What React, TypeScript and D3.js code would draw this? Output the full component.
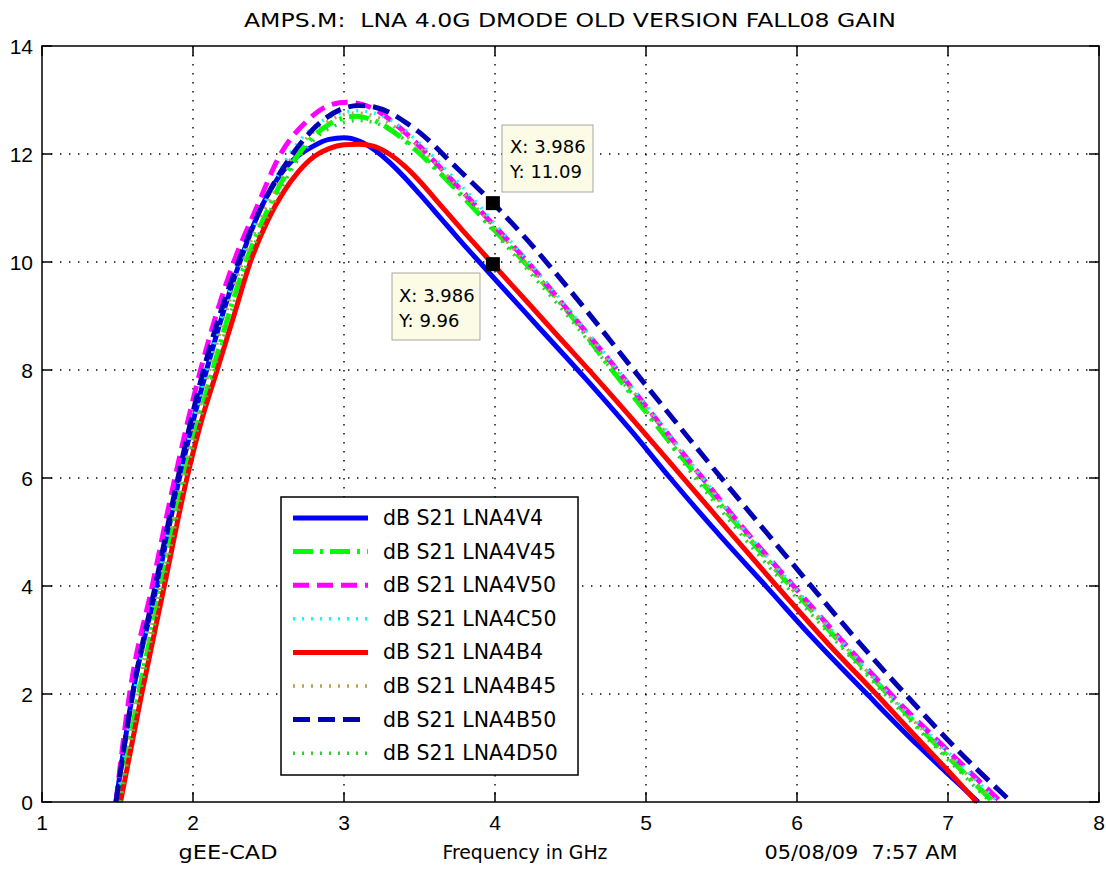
import React from 'react';
import * as d3 from 'd3';

// ---------- data ----------
const freqTicks = [1, 2, 3, 4, 5, 6, 7, 8];
const gainTicks = [0, 2, 4, 6, 8, 10, 12, 14];
const gridFreq = [2, 3, 4, 5, 6, 7];
const gridGain = [2, 4, 6, 8, 10, 12];

const titleText = 'AMPS.M:  LNA 4.0G DMODE OLD VERSION FALL08 GAIN';
const xLabelLeft = 'gEE-CAD';
const xLabelMid = 'Frequency in GHz';
const xLabelRight = '05/08/09  7:57 AM';

// LNA4V4 (blue solid)
const v4Freq = [1.49, 1.60, 1.76, 1.91, 2.09, 2.31, 2.45, 2.60, 2.80, 2.90, 3.00, 3.10, 3.20, 3.30, 3.40, 3.50, 3.60, 3.70, 3.80, 3.90, 4.00, 4.30, 4.60, 4.90, 5.16, 5.50, 5.80, 6.10, 6.47, 6.80, 7.00, 7.20];
const v4Gain = [0, 2.0, 4.0, 6.0, 8.0, 10.0, 11.0, 11.7, 12.15, 12.27, 12.3, 12.24, 12.08, 11.85, 11.57, 11.26, 10.94, 10.62, 10.3, 9.99, 9.68, 8.76, 7.84, 6.88, 6.0, 4.9, 3.98, 3.05, 1.98, 1.05, 0.52, 0];
// LNA4V45 (green dash-dot)
const v45Freq = [1.51, 1.64, 1.79, 1.94, 2.13, 2.35, 2.50, 2.70, 2.90, 3.08, 3.18, 3.28, 3.38, 3.48, 3.58, 3.68, 3.78, 3.88, 3.986, 4.20, 4.50, 4.78, 5.00, 5.29, 5.60, 5.94, 6.27, 6.60, 6.95, 7.30];
const v45Gain = [0, 2.0, 4.0, 6.0, 8.0, 10.0, 11.0, 12.0, 12.55, 12.7, 12.64, 12.5, 12.3, 12.06, 11.8, 11.52, 11.23, 10.93, 10.62, 9.98, 9.02, 7.98, 7.22, 6.2, 5.15, 4.05, 3.0, 2.0, 0.98, 0];
// LNA4V50 (magenta dashed)
const v50Freq = [1.49, 1.58, 1.73, 1.88, 2.05, 2.27, 2.42, 2.58, 2.75, 2.90, 3.02, 3.12, 3.22, 3.32, 3.42, 3.52, 3.62, 3.72, 3.82, 3.986, 4.20, 4.50, 4.81, 5.05, 5.34, 5.65, 5.97, 6.30, 6.62, 7.00, 7.35];
const v50Gain = [0, 2.0, 4.0, 6.0, 8.0, 10.0, 11.0, 12.0, 12.6, 12.9, 12.96, 12.92, 12.8, 12.6, 12.36, 12.09, 11.8, 11.5, 11.2, 10.7, 10.05, 9.05, 8.0, 7.15, 6.12, 5.05, 4.02, 2.98, 2.0, 0.95, 0];
// LNA4C50 (cyan dotted)
const c50Freq = [1.50, 1.61, 1.76, 1.91, 2.09, 2.31, 2.46, 2.64, 2.85, 3.00, 3.10, 3.20, 3.30, 3.40, 3.50, 3.60, 3.70, 3.80, 3.90, 3.986, 4.20, 4.50, 4.80, 5.05, 5.32, 5.62, 5.96, 6.29, 6.61, 6.98, 7.33];
const c50Gain = [0, 2.0, 4.0, 6.0, 8.0, 10.0, 11.0, 12.0, 12.6, 12.77, 12.8, 12.76, 12.64, 12.45, 12.2, 11.93, 11.64, 11.34, 11.03, 10.75, 10.08, 9.08, 8.05, 7.18, 6.2, 5.14, 4.05, 3.0, 2.0, 0.98, 0];
// LNA4B4 (red solid)
const b4Freq = [1.52, 1.66, 1.81, 1.96, 2.05, 2.16, 2.27, 2.38, 2.50, 2.60, 2.70, 2.80, 2.90, 3.00, 3.10, 3.20, 3.30, 3.40, 3.50, 3.60, 3.70, 3.80, 3.90, 3.986, 4.20, 4.40, 4.67, 5.00, 5.24, 5.50, 5.85, 6.20, 6.53, 6.80, 7.00, 7.19];
const b4Gain = [0, 2.0, 4.0, 6.0, 7.0, 8.0, 9.0, 10.0, 10.8, 11.3, 11.68, 11.95, 12.1, 12.17, 12.18, 12.14, 12.0, 11.78, 11.5, 11.18, 10.86, 10.54, 10.23, 9.96, 9.3, 8.68, 7.85, 6.8, 6.02, 5.18, 4.05, 2.95, 1.98, 1.17, 0.58, 0];
// LNA4B45 (tan dotted)
const b45Freq = [1.51, 1.63, 1.78, 1.93, 2.11, 2.33, 2.48, 2.67, 2.88, 3.08, 3.18, 3.28, 3.38, 3.48, 3.58, 3.68, 3.78, 3.88, 3.986, 4.20, 4.50, 4.79, 5.03, 5.31, 5.61, 5.95, 6.28, 6.60, 6.96, 7.31];
const b45Gain = [0, 2.0, 4.0, 6.0, 8.0, 10.0, 11.0, 12.0, 12.58, 12.76, 12.72, 12.6, 12.41, 12.17, 11.9, 11.61, 11.31, 11.0, 10.67, 10.0, 9.02, 8.03, 7.2, 6.2, 5.14, 4.03, 3.0, 2.0, 0.98, 0];
// LNA4B50 (dark blue dashed)
const b50Freq = [1.49, 1.60, 1.75, 1.90, 2.07, 2.30, 2.45, 2.66, 2.85, 3.00, 3.10, 3.20, 3.30, 3.40, 3.50, 3.60, 3.70, 3.80, 3.90, 3.986, 4.20, 4.40, 4.60, 4.87, 5.10, 5.44, 5.75, 6.04, 6.35, 6.70, 7.05, 7.42];
const b50Gain = [0, 2.0, 4.0, 6.0, 8.0, 10.0, 11.0, 12.0, 12.6, 12.85, 12.9, 12.87, 12.77, 12.6, 12.4, 12.15, 11.87, 11.6, 11.33, 11.09, 10.45, 9.8, 9.12, 8.17, 7.37, 6.2, 5.15, 4.18, 3.15, 2.05, 1.0, 0];
// LNA4D50 (green dotted)
const d50Freq = [1.52, 1.65, 1.80, 1.95, 2.14, 2.36, 2.52, 2.72, 2.92, 3.10, 3.20, 3.30, 3.40, 3.50, 3.60, 3.70, 3.80, 3.90, 3.986, 4.20, 4.50, 4.76, 5.00, 5.27, 5.58, 5.92, 6.25, 6.58, 6.93, 7.28];
const d50Gain = [0, 2.0, 4.0, 6.0, 8.0, 10.0, 11.0, 12.0, 12.5, 12.62, 12.58, 12.46, 12.27, 12.03, 11.76, 11.47, 11.17, 10.86, 10.58, 9.9, 8.94, 8.05, 7.25, 6.2, 5.12, 4.02, 3.0, 2.0, 0.98, 0];

const seriesLabels = ['dB S21 LNA4V4', 'dB S21 LNA4V45', 'dB S21 LNA4V50', 'dB S21 LNA4C50', 'dB S21 LNA4B4', 'dB S21 LNA4B45', 'dB S21 LNA4B50', 'dB S21 LNA4D50'];
const seriesFreqs = [v4Freq, v45Freq, v50Freq, c50Freq, b4Freq, b45Freq, b50Freq, d50Freq];
const seriesGains = [v4Gain, v45Gain, v50Gain, c50Gain, b4Gain, b45Gain, b50Gain, d50Gain];

const tipFreq = [3.986, 3.986];
const tipGain = [11.09, 9.96];

// ---------- styles ----------
const seriesStyles = [
  { color: '#0000ff', width: 5, dash: '' },
  { color: '#00ff00', width: 5, dash: '20,7,3,7' },
  { color: '#ff00ff', width: 5, dash: '16,8' },
  { color: '#00ffff', width: 3.5, dash: '2,7' },
  { color: '#ff0000', width: 5, dash: '' },
  { color: '#c0a050', width: 3.5, dash: '2,7' },
  { color: '#0000b4', width: 5, dash: '17,8' },
  { color: '#33cc33', width: 3.5, dash: '2,7' },
];

const W = 1106;
const H = 869;
const left = 42, right = 1099, top = 46, bottom = 802;
const FONT = "'DejaVu Sans', Arial, sans-serif";
const LABEL_FONT = "'Liberation Sans', Arial, sans-serif";

export default function App() {
  const x = d3.scaleLinear().domain([1, 8]).range([left, right]);
  const y = d3.scaleLinear().domain([0, 14]).range([bottom, top]);
  const line = d3.line<[number, number]>()
    .x(d => x(d[0]))
    .y(d => y(d[1]))
    .curve(d3.curveMonotoneX);

  const legX = 281, legY = 497, legW = 297, legH = 278;
  const legRow0 = 518, legStep = 33.6;
  const pre = { whiteSpace: 'pre' as const };

  return (
    <svg width={W} height={H} style={{ position: 'absolute', left: 0, top: 0, background: '#fff' }}
      fontFamily={FONT}>
      <rect x={0} y={0} width={W} height={H} fill="#fff" />
      <text x={570} y={27} fontSize={20} textAnchor="middle" textLength={652}
        lengthAdjust="spacingAndGlyphs" fill="#000" style={pre}>{titleText}</text>
      {/* grid */}
      {gridFreq.map(f => (
        <line key={'gx' + f} x1={x(f)} x2={x(f)} y1={top} y2={bottom} stroke="#000" strokeWidth={1.4} strokeDasharray="1.4,7.6" />
      ))}
      {gridGain.map(g => (
        <line key={'gy' + g} x1={left} x2={right} y1={y(g)} y2={y(g)} stroke="#000" strokeWidth={1.4} strokeDasharray="1.4,7.6" />
      ))}
      {/* ticks */}
      {freqTicks.map(f => (
        <g key={'tx' + f}>
          <line x1={x(f)} x2={x(f)} y1={bottom} y2={bottom - 10} stroke="#000" strokeWidth={1.5} />
          <line x1={x(f)} x2={x(f)} y1={top} y2={top + 10} stroke="#000" strokeWidth={1.5} />
          <text x={x(f)} y={830} fontSize={21} fontFamily={LABEL_FONT} textAnchor="middle" fill="#000">{f}</text>
        </g>
      ))}
      {gainTicks.map(g => (
        <g key={'ty' + g}>
          <line x1={left} x2={left + 10} y1={y(g)} y2={y(g)} stroke="#000" strokeWidth={1.5} />
          <line x1={right} x2={right - 10} y1={y(g)} y2={y(g)} stroke="#000" strokeWidth={1.5} />
          <text x={33} y={y(g)} fontSize={21} fontFamily={LABEL_FONT} textAnchor="end" dominantBaseline="central" fill="#000">{g}</text>
        </g>
      ))}
      {/* curves */}
      {seriesFreqs.map((fs, i) => {
        const pts: [number, number][] = fs.map((f, j) => [f, seriesGains[i][j]]);
        const st = seriesStyles[i];
        return (
          <path key={'s' + i} d={line(pts) || ''} fill="none" stroke={st.color} strokeWidth={st.width}
            strokeDasharray={st.dash || undefined} strokeLinejoin="round" />
        );
      })}
      {/* axes box */}
      <rect x={left} y={top} width={right - left} height={bottom - top} fill="none" stroke="#000" strokeWidth={1.5} />
      {/* x labels */}
      <text x={228} y={859} fontSize={20} textAnchor="middle" textLength={99} lengthAdjust="spacingAndGlyphs" fill="#000">{xLabelLeft}</text>
      <text x={525} y={859} fontSize={20} textAnchor="middle" textLength={165} lengthAdjust="spacingAndGlyphs" fill="#000">{xLabelMid}</text>
      <text x={861} y={859} fontSize={20} textAnchor="middle" textLength={193} lengthAdjust="spacingAndGlyphs" fill="#000" style={pre}>{xLabelRight}</text>
      {/* legend */}
      <rect x={legX} y={legY} width={legW} height={legH} fill="#fff" stroke="#000" strokeWidth={1.5} />
      {seriesLabels.map((lab, i) => {
        const st = seriesStyles[i];
        const yy = legRow0 + i * legStep;
        return (
          <g key={'l' + i}>
            <line x1={293} x2={368} y1={yy} y2={yy} stroke={st.color} strokeWidth={st.width}
              strokeDasharray={st.dash || undefined} />
            <text x={383} y={yy} fontSize={20.5} dominantBaseline="central" fill="#000">{lab}</text>
          </g>
        );
      })}
      {/* data tips */}
      <rect x={502} y={125} width={91} height={67} fill="#fbfbe6" stroke="#a8a8a0" strokeWidth={1} />
      <text x={510} y={153} fontSize={18} fill="#000">X: {tipFreq[0]}</text>
      <text x={510} y={178} fontSize={18} fill="#000">Y: {tipGain[0]}</text>
      <rect x={392} y={273} width={88} height={67} fill="#fbfbe6" stroke="#a8a8a0" strokeWidth={1} />
      <text x={399} y={302} fontSize={18} fill="#000">X: {tipFreq[1]}</text>
      <text x={399} y={327} fontSize={18} fill="#000">Y: {tipGain[1]}</text>
      {tipFreq.map((f, i) => (
        <rect key={'tip' + i} x={x(f) - 7} y={y(tipGain[i]) - 7} width={14} height={14} fill="#000" />
      ))}
    </svg>
  );
}
